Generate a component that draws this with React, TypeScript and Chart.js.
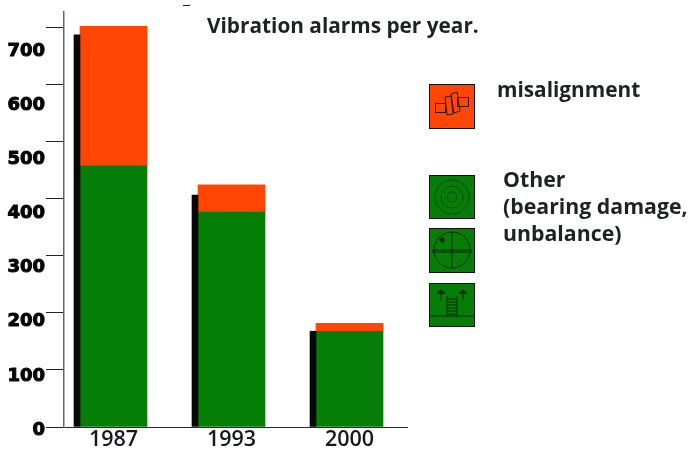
import React, { useEffect, useRef } from "react";
import { Chart, registerables } from "chart.js";

Chart.register(...registerables);

const categories = ["1987", "1993", "2000"];
const otherValues = [458, 377, 168];
const misalignmentValues = [245, 48, 14];
const shadowValues = [688, 407, 168];
const axisValues = [0, 100, 200, 300, 400, 500, 600, 700];
const titleText = "Vibration alarms per year.";
const misalignmentLabel = ["misalignment"];
const otherLabel = ["Other", "(bearing damage,", "unbalance)"];

const ORANGE = "#ff4604";
const GREEN = "#067d06";
const TEXT = "#1f2124";
const TEXT_FONT = '"Open Sans", sans-serif';

const toPoints = (values: number[]) => values.map((y, x) => ({ x, y }));
const keepAxisValues = (scale: any) => {
  scale.ticks = axisValues.map((value) => ({ value }));
};
const keepCategories = (scale: any) => {
  scale.ticks = categories.map((_, value) => ({ value }));
};

function swatch(ctx: CanvasRenderingContext2D, y: number, h: number, fill: string) {
  ctx.fillStyle = fill;
  ctx.fillRect(429.5, y + 0.5, 45, h);
  ctx.strokeStyle = "#111";
  ctx.lineWidth = 1;
  ctx.strokeRect(429.5, y + 0.5, 45, h);
}

const decorations = {
  id: "decorations",
  afterDraw(chart: any) {
    const ctx: CanvasRenderingContext2D = chart.ctx;
    ctx.save();
    ctx.textBaseline = "middle";
    ctx.textAlign = "left";
    ctx.fillStyle = TEXT;
    ctx.font = `700 20.8px ${TEXT_FONT}`;
    ctx.fillText(titleText, 207, 27);
    ctx.fillText(misalignmentLabel[0], 497, 91.5);
    ctx.font = `700 21.3px ${TEXT_FONT}`;
    otherLabel.forEach((line, i) => {
      ctx.fillText(line, 503, 181 + i * 27);
    });

    ctx.fillRect(183, 5, 7, 1);

    swatch(ctx, 84, 44, ORANGE);
    swatch(ctx, 175, 43, GREEN);
    swatch(ctx, 228, 44, GREEN);
    swatch(ctx, 283, 43, GREEN);

    ctx.strokeStyle = "#2a1a10";
    ctx.lineWidth = 1;
    // coupling icon
    ctx.strokeRect(435.5, 103.5, 10, 9);
    ctx.strokeRect(457.5, 97.5, 11, 9);
    ctx.beginPath();
    ctx.moveTo(445, 97); ctx.lineTo(451, 96); ctx.lineTo(453, 114); ctx.lineTo(447, 115); ctx.closePath();
    ctx.moveTo(451, 94); ctx.lineTo(457, 92); ctx.lineTo(460, 111); ctx.lineTo(454, 113); ctx.closePath();
    ctx.stroke();

    // bearing icon
    ctx.strokeStyle = "#0b4a0b";
    ctx.beginPath();
    ctx.arc(452, 197, 17, 0, Math.PI * 2);
    ctx.moveTo(463, 197);
    ctx.arc(452, 197, 11, 0, Math.PI * 2);
    ctx.moveTo(457, 197);
    ctx.arc(452, 197, 5, 0, Math.PI * 2);
    ctx.stroke();

    // unbalance icon
    ctx.strokeStyle = "#0a2a0a";
    ctx.beginPath();
    ctx.arc(452, 250, 18, 0, Math.PI * 2);
    ctx.moveTo(452, 232); ctx.lineTo(452, 268);
    ctx.moveTo(432, 250); ctx.lineTo(472, 250);
    ctx.moveTo(432, 252); ctx.lineTo(472, 252);
    ctx.stroke();
    ctx.fillStyle = "#0a2a0a";
    ctx.beginPath();
    ctx.arc(442, 240, 2.5, 0, Math.PI * 2);
    ctx.fill();

    // looseness icon
    ctx.strokeStyle = "#0a2a0a";
    ctx.beginPath();
    ctx.moveTo(430, 316); ctx.lineTo(474, 316);
    ctx.moveTo(447, 296); ctx.lineTo(447, 316);
    ctx.moveTo(457, 296); ctx.lineTo(457, 316);
    for (let y = 299; y < 316; y += 3) {
      ctx.moveTo(447, y); ctx.lineTo(457, y);
    }
    ctx.moveTo(441, 300); ctx.lineTo(441, 292); ctx.lineTo(445, 292);
    ctx.moveTo(463, 300); ctx.lineTo(463, 292); ctx.lineTo(459, 292);
    ctx.stroke();
    ctx.beginPath();
    ctx.moveTo(436, 294); ctx.lineTo(441, 289); ctx.lineTo(446, 294); ctx.closePath();
    ctx.moveTo(458, 294); ctx.lineTo(463, 289); ctx.lineTo(468, 294); ctx.closePath();
    ctx.fill();
    ctx.restore();
  },
};

export default function App() {
  const ref = useRef<HTMLCanvasElement>(null);
  useEffect(() => {
    const chart = new Chart(ref.current as HTMLCanvasElement, {
      type: "bar",
      data: {
        datasets: [
          {
            label: "shadow",
            data: toPoints(shadowValues),
            backgroundColor: "#08080a",
            xAxisID: "xBars",
            yAxisID: "y",
            barThickness: 6,
            stack: "shadow",
          },
          {
            label: "Other",
            data: toPoints(otherValues),
            backgroundColor: GREEN,
            xAxisID: "xBars",
            yAxisID: "y",
            barThickness: 67,
            stack: "main",
          },
          {
            label: "misalignment",
            data: toPoints(misalignmentValues),
            backgroundColor: ORANGE,
            xAxisID: "xBars",
            yAxisID: "y",
            barThickness: 67,
            stack: "main",
          },
        ],
      } as any,
      options: {
        responsive: false,
        animation: false,
        layout: { padding: { top: 12, right: 283, left: 0, bottom: 0 } },
        plugins: {
          legend: { display: false },
          title: { display: false },
          tooltip: { enabled: false },
        },
        scales: {
          x: {
            type: "linear",
            position: "bottom",
            offset: false,
            min: -0.42,
            max: 2.487,
            afterBuildTicks: keepCategories,
            afterFit: (s: any) => { s.height = 24; },
            grid: { display: false, drawTicks: false, offset: false },
            border: { display: true, color: "#2a2a2a", width: 1 },
            ticks: {
              autoSkip: false,
              maxRotation: 0,
              padding: 0,
              color: "#17181a",
              font: { family: TEXT_FONT, size: 21.5, weight: "600" },
              callback: (v: any) => categories[v as number] ?? "",
            },
          },
          xBars: {
            type: "linear",
            offset: false,
            stacked: true,
            display: false,
            min: -0.1356,
            max: 2.771,
            grid: { offset: false },
          },
          y: {
            type: "linear",
            position: "left",
            weight: 0,
            stacked: true,
            min: 0,
            max: 728,
            afterBuildTicks: keepAxisValues,
            afterFit: (s: any) => { s.width = 19; },
            border: { display: true, color: "#666", width: 1.5 },
            grid: { drawOnChartArea: false, drawTicks: true, tickLength: 18, color: "#222", lineWidth: 1 },
            ticks: { display: false },
          },
          yLabels: {
            type: "linear",
            position: "left",
            weight: 1,
            min: 5.5,
            max: 772,
            afterBuildTicks: keepAxisValues,
            afterFit: (s: any) => { s.width = 45; },
            border: { display: false },
            grid: { display: false, drawTicks: false },
            ticks: {
              padding: 0,
              color: "#050505",
              textStrokeColor: "#050505",
              textStrokeWidth: 1,
              font: { family: '"DejaVu Sans", sans-serif', size: 18, weight: "bold" },
            },
          },
        },
      } as any,
      plugins: [decorations],
    });
    return () => chart.destroy();
  }, []);

  return (
    <div style={{ position: "absolute", left: 0, top: 0, width: 690, height: 451, background: "#fff" }}>
      <canvas ref={ref} width={690} height={451} style={{ display: "block" }} />
    </div>
  );
}
